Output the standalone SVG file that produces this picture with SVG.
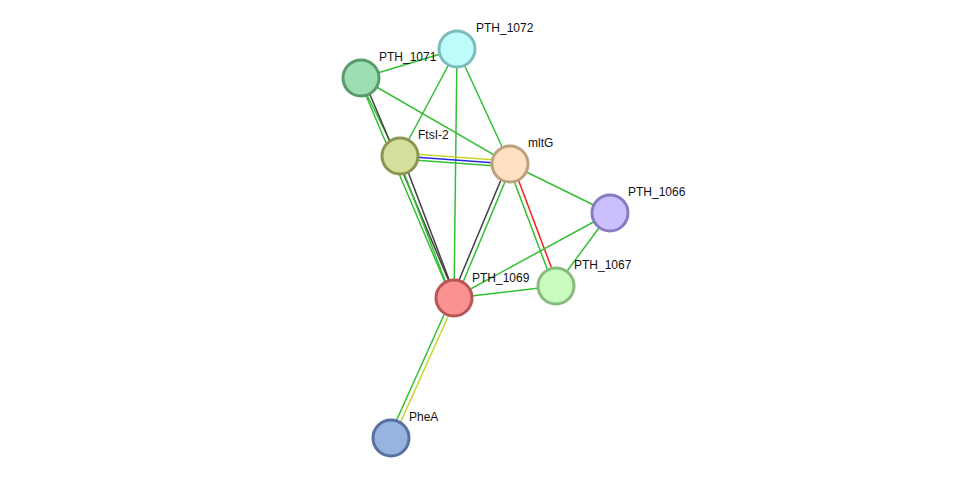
<svg xmlns="http://www.w3.org/2000/svg" width="975" height="484" viewBox="0 0 975 484">
<style>
line{stroke-width:1.5;fill:none}
.g{stroke:#33c033}.k{stroke:#404040}.y{stroke:#c8d42a}.b{stroke:#2a2ae0}.r{stroke:#f02020}
circle{stroke-width:3}
text{font-family:"Liberation Sans",Arial,sans-serif;font-size:12px;fill:#111}
</style>
<rect width="975" height="484" fill="#fff"/>
<g id="edges">
<line class="g" x1="361" y1="78" x2="457" y2="49"/>
<line class="g" x1="361" y1="78" x2="510" y2="164"/>
<line class="g" x1="359" y1="79" x2="398" y2="157"/>
<line class="g" x1="359" y1="79" x2="452" y2="299"/>
<line class="k" x1="363" y1="78" x2="456" y2="298"/>
<line class="g" x1="398" y1="157" x2="452" y2="299"/>
<line class="k" x1="402" y1="156" x2="456" y2="298"/>
<line class="g" x1="457" y1="49" x2="400" y2="156"/>
<line class="g" x1="457" y1="49" x2="454" y2="298"/>
<line class="g" x1="457" y1="49" x2="510" y2="164"/>
<line class="y" x1="400" y1="153" x2="510" y2="161"/>
<line class="b" x1="400" y1="156" x2="510" y2="164"/>
<line class="g" x1="400" y1="159" x2="510" y2="167"/>
<line class="k" x1="508" y1="163" x2="452" y2="297"/>
<line class="g" x1="512" y1="165" x2="456" y2="299"/>
<line class="g" x1="508" y1="165" x2="554" y2="287"/>
<line class="r" x1="512" y1="163" x2="558" y2="285"/>
<line class="g" x1="510" y1="164" x2="610" y2="213"/>
<line class="g" x1="610" y1="213" x2="454" y2="298"/>
<line class="g" x1="610" y1="213" x2="556" y2="286"/>
<line class="g" x1="556" y1="286" x2="454" y2="298"/>
<line class="g" x1="452" y1="297" x2="389" y2="437"/>
<line class="y" x1="456" y1="299" x2="393" y2="439"/>
</g>
<g id="PTH_1072"><circle cx="457" cy="49" r="18" fill="#bffcfc" stroke="#7bbcbc"/><text x="476" y="32">PTH_1072</text></g>
<g id="PTH_1071"><circle cx="361" cy="78" r="18" fill="#9ddeb3" stroke="#5a9a6d"/><text x="379" y="61">PTH_1071</text></g>
<g id="FtsI-2"><circle cx="400" cy="156" r="18" fill="#d3df9a" stroke="#8b9550"/><text x="418" y="139">FtsI-2</text></g>
<g id="mltG"><circle cx="510" cy="164" r="18" fill="#fde1c0" stroke="#bca27e"/><text x="528" y="147">mltG</text></g>
<g id="PTH_1066"><circle cx="610" cy="213" r="18" fill="#cbc0fd" stroke="#8a7cc0"/><text x="628" y="196">PTH_1066</text></g>
<g id="PTH_1067"><circle cx="556" cy="286" r="18" fill="#c9fbbf" stroke="#88bb7f"/><text x="574" y="269">PTH_1067</text></g>
<g id="PTH_1069"><circle cx="454" cy="298" r="18" fill="#fb9292" stroke="#b85656"/><text x="472" y="282">PTH_1069</text></g>
<g id="PheA"><circle cx="391" cy="438" r="18" fill="#99b3e0" stroke="#5670a0"/><text x="409" y="421">PheA</text></g>
</svg>
